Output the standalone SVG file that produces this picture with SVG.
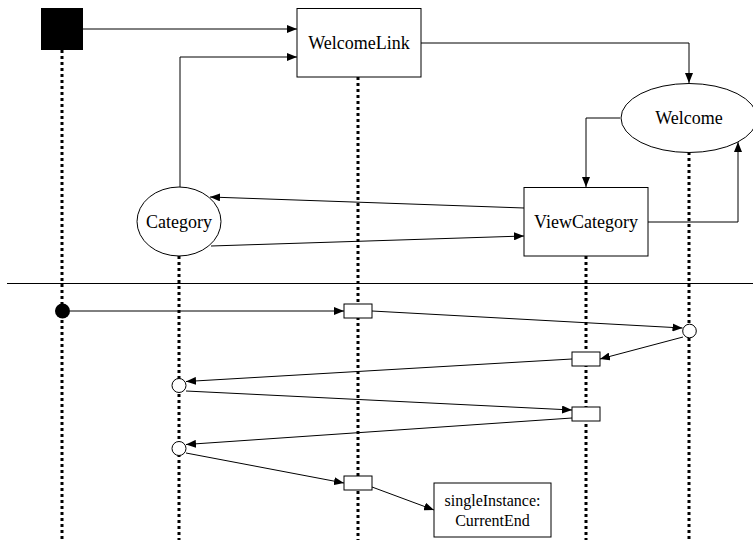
<svg xmlns="http://www.w3.org/2000/svg" width="753" height="540" viewBox="0 0 753 540">
  <style>
    .box { fill: #fff; stroke: #000; stroke-width: 1; }
    .life { stroke: #000; stroke-width: 3; stroke-dasharray: 3 3; fill: none; }
    .conn { stroke: #000; stroke-width: 1; fill: none; }
    .arr { marker-end: url(#head); }
    .lbl { font-family: "Liberation Serif", "Times New Roman", serif; font-size: 18px; fill: #000; text-anchor: middle; }
    .small { font-size: 16px; }
  </style>
  <defs>
    <marker id="head" markerUnits="userSpaceOnUse" markerWidth="10" markerHeight="8" refX="10" refY="4" orient="auto">
      <path d="M0,0 L10,4 L0,8 z" fill="#000"/>
    </marker>
  </defs>
  <rect width="753" height="540" fill="#fff"/>

  <!-- lifelines -->
  <g id="lifelines">
    <line class="life" x1="62" y1="50" x2="62" y2="540"/>
    <line class="life" x1="179" y1="256" x2="179" y2="540"/>
    <line class="life" x1="358" y1="77" x2="358" y2="540"/>
    <line class="life" x1="586" y1="256" x2="586" y2="540"/>
    <line class="life" x1="689" y1="152" x2="689" y2="540"/>
  </g>

  <!-- separator between the structure and the sequence -->
  <line x1="7" y1="283.5" x2="753" y2="283.5" stroke="#000" stroke-width="1"/>

  <!-- connectors -->
  <g id="connectors">
    <line class="conn arr" x1="83" y1="29" x2="297" y2="29"/>
    <polyline class="conn arr" points="180,187 180,57 297,57"/>
    <polyline class="conn arr" points="421,43 689,43 689,83"/>
    <polyline class="conn arr" points="620,118 586,118 586,187"/>
    <polyline class="conn arr" points="648,222 738,222 738,142"/>
    <line class="conn arr" x1="524" y1="208" x2="210" y2="197"/>
    <line class="conn arr" x1="211" y1="246" x2="524" y2="236"/>

    <line class="conn arr" x1="70" y1="311" x2="344" y2="311"/>
    <line class="conn arr" x1="372" y1="311" x2="682.5" y2="328"/>
    <line class="conn arr" x1="683" y1="337" x2="600" y2="359"/>
    <line class="conn arr" x1="572" y1="359" x2="186" y2="381.5"/>
    <line class="conn arr" x1="186" y1="391" x2="572" y2="410"/>
    <line class="conn arr" x1="572" y1="418" x2="186" y2="444.5"/>
    <line class="conn arr" x1="186" y1="453" x2="344" y2="483"/>
    <line class="conn arr" x1="372" y1="487" x2="434" y2="510"/>
  </g>

  <!-- structure nodes -->
  <g id="start">
    <rect x="41" y="8" width="42" height="42" fill="#000"/>
  </g>
  <g id="welcomeLink">
    <rect class="box" x="297" y="8.5" width="124" height="68.5"/>
    <text class="lbl" x="359" y="49">WelcomeLink</text>
  </g>
  <g id="welcome">
    <ellipse class="box" cx="689" cy="118" rx="68" ry="34.5"/>
    <text class="lbl" x="689" y="124">Welcome</text>
  </g>
  <g id="category">
    <ellipse class="box" cx="179" cy="221.5" rx="42" ry="34.5"/>
    <text class="lbl" x="179" y="228">Category</text>
  </g>
  <g id="viewCategory">
    <rect class="box" x="524" y="187.5" width="124" height="68.5"/>
    <text class="lbl" x="586" y="228">ViewCategory</text>
  </g>

  <!-- sequence nodes -->
  <g id="seqStart">
    <circle cx="62.5" cy="311" r="7.5" fill="#000"/>
  </g>
  <g id="welcomeLinkAct1">
    <rect class="box" x="344" y="304" width="28" height="14"/>
  </g>
  <g id="welcomeState">
    <circle class="box" cx="689.5" cy="331" r="6.8"/>
  </g>
  <g id="viewCategoryAct1">
    <rect class="box" x="572" y="352" width="28" height="14"/>
  </g>
  <g id="categoryState1">
    <circle class="box" cx="179" cy="385.5" r="7"/>
  </g>
  <g id="viewCategoryAct2">
    <rect class="box" x="572" y="407" width="28" height="14"/>
  </g>
  <g id="categoryState2">
    <circle class="box" cx="179" cy="448.5" r="7"/>
  </g>
  <g id="welcomeLinkAct2">
    <rect class="box" x="344" y="476" width="28" height="14"/>
  </g>
  <g id="currentEnd">
    <rect class="box" x="434" y="483" width="117" height="54"/>
    <text class="lbl small" x="492.5" y="506">singleInstance:</text>
    <text class="lbl small" x="492.5" y="526">CurrentEnd</text>
  </g>
</svg>
